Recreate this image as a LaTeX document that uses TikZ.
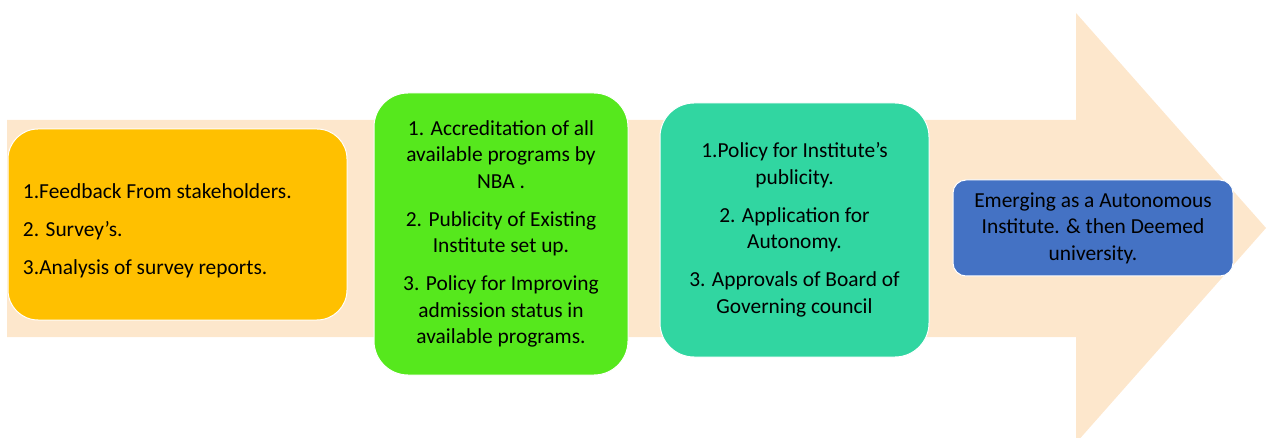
\documentclass[tikz,border=0pt]{standalone}
\usepackage{fontspec}
\setmainfont{Carlito}
\usepackage{xcolor}
\usepackage{tikz}
\usetikzlibrary{positioning}
\definecolor{arrowFill}{RGB}{253,231,204}
\definecolor{stepOrange}{RGB}{255,192,0}
\definecolor{stepGreen}{RGB}{86,232,29}
\definecolor{stepTeal}{RGB}{49,214,161}
\definecolor{stepBlue}{RGB}{68,114,196}
\tikzset{
    stagebox/.style={
        draw=white,
        line width=0.5pt,
        inner sep=0pt,
        align=center,
        font=\fontsize{10.7}{13.25}\selectfont
    },
    bigArrow/.style={fill=arrowFill}
}

\begin{document}
\begin{tikzpicture}[x=0.5pt, y=-0.5pt]
                \useasboundingbox (0,0) rectangle (1274,438);
                % Pfeil im Hintergrund
                \fill[bigArrow] (7,120) -- (1076,120) -- (1076,13) -- (1266,228)
                    -- (1076,443) -- (1076,337) -- (7,337) -- cycle;

                \node[stagebox, fill=stepOrange, rounded corners=15pt,
                    minimum width=169.5pt, minimum height=95.5pt,
                    text width=154.5pt, inner xsep=7.5pt, align=flush left] (feedback) at (177.5,224.5)
                    {\rule{0pt}{13.5pt}1.Feedback From stakeholders.\\[5.75pt]2. Survey’s.\\[5.75pt]3.Analysis of survey reports.};
                \node[stagebox, fill=stepGreen, rounded corners=17pt,
                    minimum width=127pt, minimum height=141pt,
                    right=13pt of feedback, yshift=-4.75pt] (accred)
                    {1. Accreditation of all\\available programs by\\NBA .\\[5.75pt]2. Publicity of Existing\\Institute set up.\\[5.75pt]3. Policy for Improving\\admission status in\\available programs.};
                \node[stagebox, fill=stepTeal, rounded corners=17pt,
                    minimum width=134.5pt, minimum height=127pt,
                    right=15.5pt of accred, yshift=2pt] (policy)
                    {1.Policy for Institute’s\\publicity.\\[5.75pt]2. Application for\\Autonomy.\\[5.75pt]3. Approvals of Board of\\Governing council};
                \node[stagebox, fill=stepBlue, rounded corners=6.5pt,
                    minimum width=140pt, minimum height=48pt,
                    right=11.5pt of policy, yshift=1pt] (emerge)
                    {Emerging as a Autonomous\\Institute. \& then Deemed\\university.};
            \end{tikzpicture}
\end{document}
